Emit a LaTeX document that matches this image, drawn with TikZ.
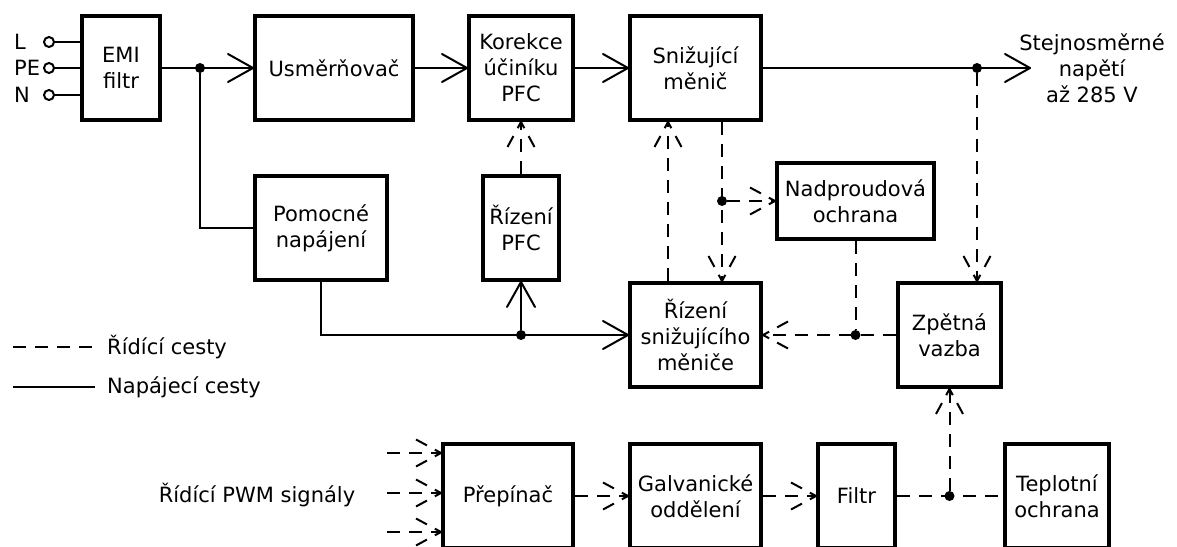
\documentclass[tikz,border=0pt]{standalone}
\usepackage{fontspec}
\setmainfont{DejaVu Sans}
\usepackage{tikz}
\usetikzlibrary{arrows.meta, positioning}

% open barb tips, solid and dashed
\newcommand{\barbpath}{%
  \pgfpathmoveto{\pgfpointorigin}
  \pgfpathlineto{\pgfpoint{-\pgfarrowlength}{.5\pgfarrowwidth}}
  \pgfpathmoveto{\pgfpointorigin}
  \pgfpathlineto{\pgfpoint{-\pgfarrowlength}{-.5\pgfarrowwidth}}}
\newcommand{\barbsetup}{%
  \pgfarrowssettipend{0pt}
  \pgfarrowssetlineend{-1pt}
  \pgfarrowssetvisualbackend{-\pgfarrowlength}
  \pgfarrowssetbackend{-\pgfarrowlength}
  \pgfarrowshullpoint{0pt}{0pt}
  \pgfarrowsupperhullpoint{-\pgfarrowlength}{.5\pgfarrowwidth}
  \pgfarrowssavethe\pgfarrowlength
  \pgfarrowssavethe\pgfarrowwidth}
\pgfdeclarearrow{
  name = Barb,
  parameters = {\the\pgfarrowlength,\the\pgfarrowwidth},
  setup code = {\barbsetup},
  drawing code = {\pgfsetroundcap\pgfsetroundjoin\barbpath\pgfusepathqstroke},
  defaults = {length = 25pt, width = 28pt}
}
\pgfdeclarearrow{
  name = DBarb,
  parameters = {\the\pgfarrowlength,\the\pgfarrowwidth},
  setup code = {\barbsetup},
  drawing code = {\pgfsetdash{{7pt}{9pt}{13pt}{9pt}}{0pt}\barbpath\pgfusepathqstroke},
  defaults = {length = 25pt, width = 27pt}
}

\begin{document}
\begin{tikzpicture}[
  x=1pt, y=-1pt,
  font=\fontsize{21}{26}\selectfont,
  box/.style={rectangle, draw, line width=4pt, minimum height=104pt,
              inner sep=0pt, align=center},
  pwr/.style={line width=2pt},
  ctrl/.style={line width=2pt, dash pattern=on 13pt off 9pt},
  pwr arrow/.style={pwr, -{Barb}},
  ctrl arrow/.style={ctrl, -{DBarb}},
  dot/.style={circle, fill, inner sep=0pt, minimum size=10pt},
  term/.style={circle, draw, line width=2pt, inner sep=0pt, minimum size=10pt},
  lbl/.style={inner sep=0pt, align=center}
]
  \useasboundingbox (0,0) rectangle (1177,546);

  % top row
  \node[box, minimum width=78pt] (emi) at (121,68) {EMI\\filtr};
  \node[box, minimum width=158pt, right=91pt of emi] (usm) {Usměrňovač};
  \node[box, minimum width=104pt, right=52pt of usm] (pfc) {Korekce\\účiníku\\PFC};
  \node[box, minimum width=131pt, right=53pt of pfc] (buck) {Snižující\\měnič};
  \node[lbl] (dcout) at (1092,68) {Stejnosměrné\\napětí\\až 285 V};
  \coordinate (dctip) at (1030,68);

  % middle
  \node[box, minimum width=132pt] (aux) at (321,228) {Pomocné\\napájení};
  \node[box, minimum width=76pt] (pfcctl) at (pfc |- aux) {Řízení\\PFC};
  \node[box, minimum width=131pt, below=159pt of buck] (buckctl) {Řízení\\snižujícího\\měniče};
  \node[box, minimum width=103pt, right=133pt of buckctl] (fb) {Zpětná\\vazba};
  \node[box, minimum width=157pt, minimum height=76pt] (ocp) at (855.5,201) {Nadproudová\\ochrana};

  % bottom row
  \node[box, minimum width=130pt] (sw) at (508,496) {Přepínač};
  \node[box, minimum width=131pt, right=53pt of sw] (iso) {Galvanické\\oddělení};
  \node[box, minimum width=77pt, right=53pt of iso] (filt) {Filtr};
  \node[box, minimum width=104pt, right=106pt of filt] (temp) {Teplotní\\ochrana};
  \node[lbl] (pwm) at (257,495) {Řídící PWM signály};

  % mains terminals
  \foreach \name/\txt/\y in {tL/L/42, tPE/PE/68, tN/N/95} {
    \node[term] (\name) at (49,\y) {};
    \node[lbl, anchor=west] (\name txt) at (14,\y) {\txt};
    \draw[pwr] (\name) -- (\name -| emi.west);
  }

  % junctions
  \node[dot] (j1) at (200,68) {};
  \node[dot] (j2) at (977,68) {};
  \node[dot] (j3) at (pfcctl.south |- buckctl.west) {};
  \node[dot] (j4) at (722,201) {};
  \node[dot] (j5) at (ocp.south |- fb.west) {};
  \node[dot] (j6) at (fb.south |- filt.east) {};

  % power paths
  \draw[pwr arrow] (emi) -- (usm);
  \draw[pwr] (j1) |- (aux.west);
  \draw[pwr arrow] (usm) -- (pfc);
  \draw[pwr arrow] (pfc) -- (buck);
  \draw[pwr arrow] (buck.east) -- (dctip);
  \draw[pwr arrow] (aux.south) |- (buckctl.west);
  \draw[pwr arrow] (j3) -- (pfcctl.south);

  % control paths
  \draw[ctrl arrow] (pfcctl.north) -- (pfc.south);
  \draw[ctrl arrow] ([xshift=-27.5pt]buckctl.north) -- ([xshift=-27.5pt]buck.south);
  \draw[ctrl arrow] (buck.south -| j4) -- (buckctl.north -| j4);
  \draw[ctrl arrow] (j4) -- (ocp.west);
  \draw[ctrl arrow] (j2) -- (j2 |- fb.north);
  \draw[ctrl] (ocp.south) -- (j5);
  \draw[ctrl arrow] (fb.west) -- (buckctl.east);
  \draw[ctrl arrow] (sw) -- (iso);
  \draw[ctrl arrow] (iso) -- (filt);
  \draw[ctrl] (filt.east) -- (temp.west);
  \draw[ctrl arrow] (j6) -- (fb.south);
  \foreach \y [count=\i] in {453,493,532} {
    \coordinate (pwm\i) at (387,\y);
    \draw[ctrl arrow] (pwm\i) -- (pwm\i -| sw.west);
  }

  % legend
  \coordinate (lgc1) at (13,347);
  \coordinate (lgc2) at (95,347);
  \coordinate (lgp1) at (13,387);
  \coordinate (lgp2) at (95,387);
  \draw[ctrl] (lgc1) -- (lgc2);
  \draw[pwr] (lgp1) -- (lgp2);
  \node[lbl, anchor=west, xshift=12pt] (lgctxt) at (lgc2) {Řídící cesty};
  \node[lbl, anchor=west, xshift=12pt] (lgptxt) at (lgp2) {Napájecí cesty};
\end{tikzpicture}
\end{document}
